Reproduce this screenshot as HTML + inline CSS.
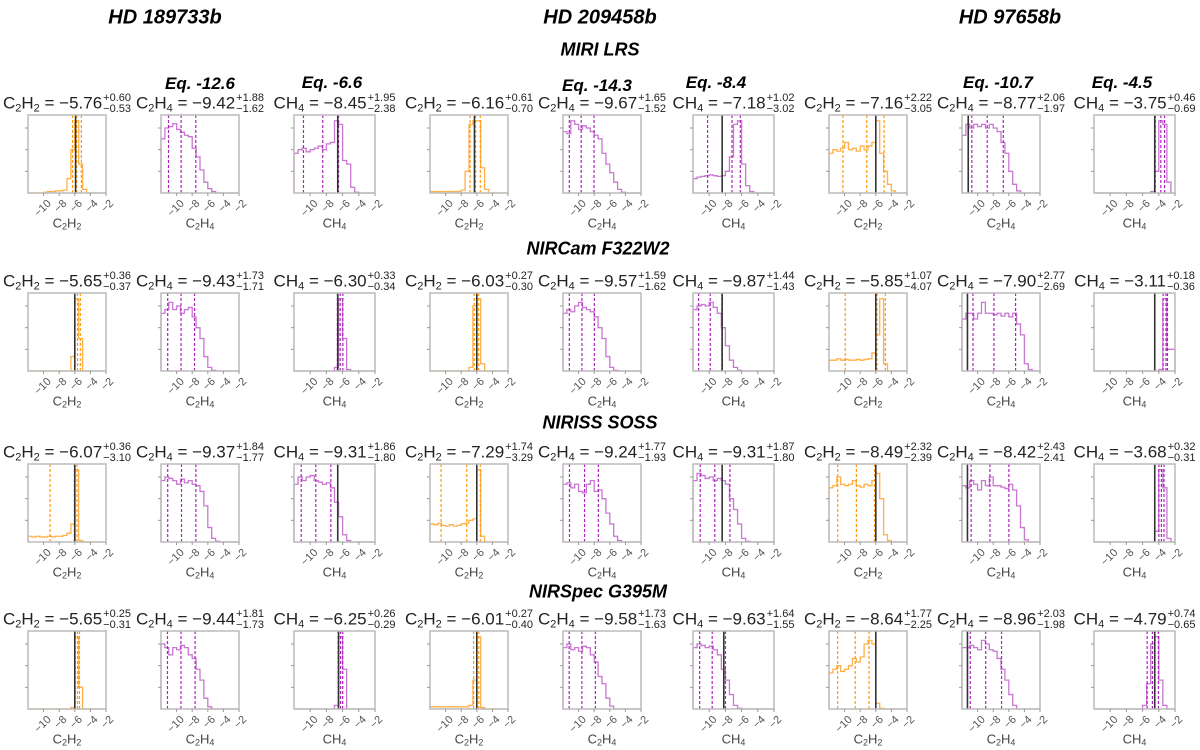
<!DOCTYPE html>
<html><head><meta charset="utf-8">
<style>
html,body{margin:0;padding:0;background:#fff;}
#wrap{position:relative;width:1200px;height:750px;overflow:hidden;font-family:"Liberation Sans",sans-serif;}
svg{position:absolute;left:0;top:0;}
.ttl{position:absolute;transform:translate(-50%,-50%);font-weight:bold;font-style:italic;color:#000;white-space:nowrap;}
.lbl{position:absolute;transform:translate(-50%,-50%);font-size:17px;color:#222;white-space:nowrap;line-height:18px;}
.lbl sub{font-size:11px;vertical-align:-3px;line-height:0;}
.ud{display:inline-flex;flex-direction:column;vertical-align:middle;font-size:11px;line-height:11px;margin-left:1px;}
.axl{position:absolute;transform:translate(-50%,-50%);font-size:13px;color:#444;white-space:nowrap;}
.axl sub{font-size:9px;vertical-align:-2px;line-height:0;}
</style></head>
<body>
<div id="wrap">
<svg id="svg" width="1200" height="750"></svg>
<div class="ttl" style="left:165px;top:18px;font-size:20px">HD 189733b</div>
<div class="ttl" style="left:600px;top:18px;font-size:20px">HD 209458b</div>
<div class="ttl" style="left:1010px;top:18px;font-size:20px">HD 97658b</div>
<div class="ttl" style="left:600px;top:50px;font-size:18px">MIRI LRS</div>
<div class="ttl" style="left:598px;top:249px;font-size:18px">NIRCam F322W2</div>
<div class="ttl" style="left:600px;top:423px;font-size:18px">NIRISS SOSS</div>
<div class="ttl" style="left:598px;top:592px;font-size:18px">NIRSpec G395M</div>
<div class="ttl" style="left:200px;top:84px;font-size:17px">Eq. -12.6</div>
<div class="ttl" style="left:332px;top:83px;font-size:17px">Eq. -6.6</div>
<div class="ttl" style="left:597px;top:86px;font-size:17px">Eq. -14.3</div>
<div class="ttl" style="left:716px;top:83px;font-size:17px">Eq. -8.4</div>
<div class="ttl" style="left:998px;top:83px;font-size:17px">Eq. -10.7</div>
<div class="ttl" style="left:1122px;top:83px;font-size:17px">Eq. -4.5</div>
</div>
<script>
// per-column species (0=C2H2,1=C2H4,2=CH4)
const species = [0,1,2,0,1,2,0,1,2];
const medians = [
 [-5.76,-9.42,-8.45,-6.16,-9.67,-7.18,-7.16,-8.77,-3.75],
 [-5.65,-9.43,-6.30,-6.03,-9.57,-9.87,-5.85,-7.90,-3.11],
 [-6.07,-9.37,-9.31,-7.29,-9.24,-9.31,-8.49,-8.42,-3.68],
 [-5.65,-9.44,-6.25,-6.01,-9.58,-9.63,-8.64,-8.96,-4.79]];
const errPlus = [
 [0.60,1.88,1.95,0.61,1.65,1.02,2.22,2.06,0.46],
 [0.36,1.73,0.33,0.27,1.59,1.44,1.07,2.77,0.18],
 [0.36,1.84,1.86,1.74,1.77,1.87,2.32,2.43,0.32],
 [0.25,1.81,0.26,0.27,1.73,1.64,1.77,2.03,0.74]];
const errMinus = [
 [0.53,1.62,2.38,0.70,1.52,3.02,3.05,1.97,0.69],
 [0.37,1.71,0.34,0.30,1.62,1.43,4.07,2.69,0.36],
 [3.10,1.77,1.80,3.29,1.93,1.80,2.39,2.41,0.31],
 [0.31,1.73,0.29,0.40,1.63,1.55,2.25,1.98,0.65]];
const truth = [
 [-5.9,null,-6.6,-6.3,null,-8.4,-6.0,-11.2,-4.5],
 [-6.0,null,-6.6,-6.0,null,-8.4,-6.0,-11.3,-4.5],
 [-6.0,null,-6.6,-6.0,null,-8.4,-6.0,-11.3,-4.5],
 [-6.0,null,-6.5,-6.0,null,-8.2,-6.0,-11.3,-4.5]];
// 20 bins of width 0.5 from -12 to -2
const bins = [
 [[0,0,0,0,0.01,0.02,0.02,0.03,0.03,0.04,0.2,0.6,1.0,0.4,0.05,0,0,0,0,0],
  [0.75,0.9,0.92,0.96,0.88,0.84,0.8,0.78,0.62,0.5,0.32,0.15,0.06,0.02,0,0,0,0,0,0],
  [0.55,0.6,0.62,0.57,0.6,0.62,0.65,0.6,0.68,0.7,1.0,0.95,0.45,0.4,0.08,0.01,0,0,0,0],
  [0.02,0.02,0.02,0.02,0.02,0.02,0.02,0.02,0.04,0.3,0.95,1.0,1.0,0.35,0.05,0,0,0,0,0],
  [0.85,0.82,1.0,0.95,0.88,0.93,0.9,0.85,0.8,0.75,0.55,0.4,0.28,0.15,0.05,0.01,0,0,0,0],
  [0.2,0.22,0.23,0.24,0.25,0.24,0.23,0.24,0.3,0.5,0.95,1.0,0.4,0.1,0.02,0,0,0,0,0],
  [0.55,0.6,0.58,0.62,0.7,0.6,0.62,0.58,0.65,0.6,0.65,0.7,1.0,0.55,0.3,0.12,0.03,0,0,0],
  [0.8,0.95,0.9,0.95,0.92,0.95,0.9,0.95,0.9,0.85,0.7,0.55,0.3,0.12,0.03,0,0,0,0,0],
  [0,0,0,0,0,0,0,0,0,0,0,0,0,0,0.02,0.3,1.0,0.95,0.15,0]],
 [[0,0,0,0,0,0,0,0,0,0,0,0.2,1.0,0.45,0,0,0,0,0,0],
  [0.8,0.85,0.95,0.85,0.9,0.8,0.85,0.88,0.75,0.6,0.45,0.2,0.05,0.01,0,0,0,0,0,0],
  [0,0,0,0,0,0,0,0,0,0,0.05,1.0,0.45,0.02,0,0,0,0,0,0],
  [0,0,0,0,0,0,0,0,0,0,0.05,0.9,1.0,0.1,0,0,0,0,0,0],
  [0.8,0.85,0.82,0.9,0.95,0.88,0.85,0.82,0.75,0.6,0.45,0.2,0.05,0.01,0,0,0,0,0,0],
  [0.85,0.9,0.92,0.9,0.95,0.88,0.8,0.6,0.35,0.15,0.05,0.01,0,0,0,0,0,0,0,0],
  [0.15,0.15,0.17,0.15,0.16,0.15,0.15,0.16,0.15,0.16,0.17,0.25,0.5,1.0,0.1,0,0,0,0,0],
  [0.72,0.8,0.8,0.72,0.8,0.95,0.8,0.8,0.78,0.8,0.76,0.8,0.75,0.8,0.65,0.5,0.1,0.02,0,0],
  [0,0,0,0,0,0,0,0,0,0,0,0,0,0,0,0,0.02,1.0,0.3,0.3]],
 [[0.08,0.07,0.08,0.07,0.07,0.08,0.07,0.08,0.08,0.09,0.12,0.25,1.0,0.02,0,0,0,0,0,0],
  [0.85,0.9,0.88,0.85,0.8,0.87,0.82,0.85,0.8,0.78,0.7,0.5,0.2,0.05,0.01,0,0,0,0,0],
  [0.8,0.9,0.85,0.9,0.92,0.85,0.83,0.8,0.82,0.75,0.55,0.35,0.1,0.02,0,0,0,0,0,0],
  [0.25,0.24,0.26,0.23,0.22,0.24,0.22,0.23,0.25,0.26,0.3,0.32,1.0,0.08,0,0,0,0,0,0],
  [0.8,0.82,0.75,0.8,0.7,0.68,0.8,0.85,0.7,0.72,0.6,0.4,0.25,0.08,0.02,0,0,0,0,0],
  [0.85,0.95,0.92,0.88,0.9,0.85,0.88,0.85,0.8,0.6,0.45,0.25,0.05,0.01,0,0,0,0,0,0],
  [0.75,0.78,0.9,0.8,0.78,0.8,0.85,0.78,0.76,0.8,0.78,0.85,0.95,0.6,0.1,0.02,0,0,0,0],
  [0.78,0.75,0.85,0.8,0.72,0.85,0.78,0.9,0.78,0.78,0.76,0.74,0.8,0.72,0.5,0.2,0.03,0,0,0],
  [0,0,0,0,0,0,0,0,0,0,0,0,0,0,0,0.15,1.0,0.75,0.05,0]],
 [[0,0,0,0,0,0,0,0,0,0,0,0.02,1.0,0.3,0,0,0,0,0,0],
  [0.9,0.85,0.75,0.85,0.82,0.88,0.85,0.75,0.7,0.55,0.4,0.15,0.03,0,0,0,0,0,0,0],
  [0,0,0,0,0,0,0,0,0,0,0.05,1.0,0.55,0,0,0,0,0,0,0],
  [0.03,0.03,0.03,0.03,0.03,0.03,0.03,0.03,0.03,0.03,0.05,0.4,1.0,0.02,0,0,0,0,0,0],
  [0.85,0.9,0.82,0.85,0.8,0.87,0.85,0.75,0.65,0.45,0.35,0.15,0.04,0,0,0,0,0,0,0],
  [0.85,0.9,0.88,0.85,0.87,0.82,0.75,0.55,0.4,0.2,0.05,0.01,0,0,0,0,0,0,0,0],
  [0.5,0.55,0.6,0.52,0.55,0.6,0.7,0.65,0.72,0.9,0.95,0.9,0.08,0.01,0,0,0,0,0,0],
  [0.85,0.85,0.88,0.85,0.82,0.95,0.9,0.82,0.8,0.7,0.55,0.4,0.2,0.05,0,0,0,0,0,0],
  [0,0,0,0,0,0,0,0,0,0,0,0,0.05,0.35,0.9,1.0,0.4,0.05,0,0]]];
const tickVals = [-10,-8,-6,-4,-2];
const tickText = ["\u221210","\u22128","\u22126","\u22124","\u22122"];
const specHTML = ["C<sub>2</sub>H<sub>2</sub>","C<sub>2</sub>H<sub>4</sub>","CH<sub>4</sub>"];
const specSlug = ["c2h2","c2h4","ch4"];

const colX = [28,161,294,430,563,693,829,962,1094];
const rowY = [115,293,464,631];
const H = 78;
const NS = "http://www.w3.org/2000/svg";
const svg = document.getElementById('svg');
const wrap = document.getElementById('wrap');
function mk(tag, attrs){const e=document.createElementNS(NS,tag);for(const k in attrs)e.setAttribute(k,attrs[k]);return e;}
function fmt(v){return (v<0?"\u2212":"")+Math.abs(v).toFixed(2);}

for(let r=0;r<4;r++){
 for(let c=0;c<9;c++){
  const sp=species[c];
  const X=colX[c], Y=rowY[r], W=(sp===2?81:78);
  const xs=v=>X+(v+12)/10*W;
  const ys=h=>Y+H-h/1.08*H;
  const g=mk('g',{});
  
  
  svg.appendChild(g);
  const col = sp===0 ? '#ffb04a' : '#c878d0';
  const dcol = sp===0 ? '#ff9a10' : '#b020c0';
  const b=bins[r][c];
  let d='M'+xs(-12)+','+ys(0);
  for(let i=0;i<b.length;i++){
   const lo=-12+0.5*i, hi=lo+0.5;
   d+=' L'+xs(lo)+','+ys(b[i])+' L'+xs(hi)+','+ys(b[i]);
  }
  d+=' L'+xs(-2)+','+ys(0);
  const p=mk('path',{d:d,fill:'none',stroke:col,'stroke-width':1.3});
  
  
  g.appendChild(p);
  const m=medians[r][c];
  [m-errMinus[r][c], m, m+errPlus[r][c]].forEach(q=>{
   if(q<-12||q>-2) return;
   const l=mk('line',{x1:xs(q),x2:xs(q),y1:Y,y2:Y+H,stroke:dcol,'stroke-width':1.2,'stroke-dasharray':'3,2'});
   
   
   g.appendChild(l);
  });
  const t=truth[r][c];
  if(t!==null){
   const l=mk('line',{x1:xs(t),x2:xs(t),y1:Y,y2:Y+H,stroke:'#333','stroke-width':1.6});
   
   
   g.appendChild(l);
  }
  const fr=mk('rect',{x:X,y:Y,width:W,height:H,fill:'none',stroke:'#bbb','stroke-width':1.5});
  
  
  g.appendChild(fr);
  [0.3,0.6,0.9].forEach(h=>{
   g.appendChild(mk('line',{x1:X-3,x2:X,y1:ys(h),y2:ys(h),stroke:'#999','stroke-width':1}));
  });
  tickVals.forEach((v,i)=>{
   const tx=xs(v);
   g.appendChild(mk('line',{x1:tx,x2:tx,y1:Y+H,y2:Y+H+3,stroke:'#999','stroke-width':1}));
   const ax0=tx+3, ay0=Y+H+6;
   const tt=mk('text',{x:ax0,y:ay0,'font-size':11,fill:'#555','text-anchor':'end','font-family':'Liberation Sans, sans-serif',transform:'rotate(-45 '+ax0+' '+ay0+')','dominant-baseline':'hanging'});
   tt.textContent=tickText[i];
   
   
   g.appendChild(tt);
  });
  const lb=document.createElement('div');
  lb.className='lbl';
  lb.style.left=(X+W/2)+'px';
  lb.style.top=(Y-11)+'px';
  lb.innerHTML=specHTML[sp]+' = '+fmt(m)+'<span class="ud"><span>+'+errPlus[r][c].toFixed(2)+'</span><span>\u2212'+errMinus[r][c].toFixed(2)+'</span></span>';
  
  
  wrap.appendChild(lb);
  const ax=document.createElement('div');
  ax.className='axl';
  ax.style.left=(X+W/2)+'px';
  ax.style.top=(Y+H+30)+'px';
  ax.innerHTML=specHTML[sp];
  
  
  wrap.appendChild(ax);
 }
}
</script>
</body></html>
